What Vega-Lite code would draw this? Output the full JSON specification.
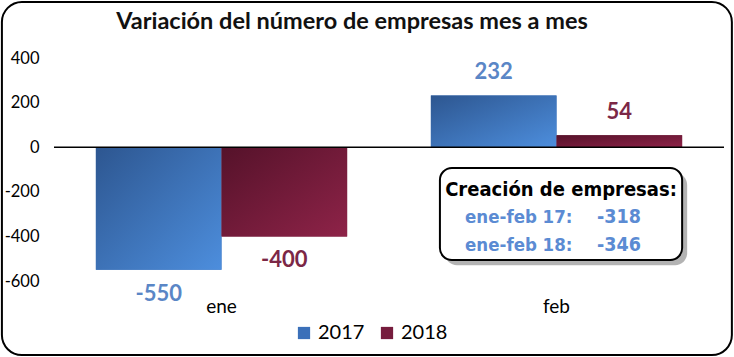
{
  "$schema": "https://vega.github.io/schema/vega-lite/v6.json",
  "width": 670,
  "height": 223,
  "autosize": {"type": "none"},
  "padding": {"left": 54, "top": 58, "right": 10, "bottom": 76},
  "background": "white",
  "config": {"view": {"stroke": null}},
  "title": {
    "text": "Variación del número de empresas mes a mes",
    "font": "Lato", "fontSize": 23.5, "fontWeight": "bold", "color": "#111111",
    "anchor": "middle", "frame": "group", "dx": -37, "offset": -32
  },
  "datasets": {
    "variacion": [
      {"mes": "ene", "year": "2017", "valor": -550},
      {"mes": "ene", "year": "2018", "valor": -400},
      {"mes": "feb", "year": "2017", "valor": 232},
      {"mes": "feb", "year": "2018", "valor": 54}
    ],
    "resumen": [
      {"periodo": "ene-feb 17:", "creacion": -318},
      {"periodo": "ene-feb 18:", "creacion": -346}
    ]
  },
  "data": {"name": "variacion"},
  "layer": [
    {
      "data": {"values": [{}]},
      "mark": {"type": "rect", "fill": "transparent", "stroke": "black", "strokeWidth": 2, "cornerRadius": 20, "clip": false},
      "encoding": {
        "x": {"datum": "ene", "type": "nominal", "bandPosition": -0.374},
        "x2": {"datum": "feb", "bandPosition": 1.198},
        "y": {"datum": 651, "type": "quantitative"},
        "y2": {"datum": -932}
      }
    },
    {
      "mark": {"type": "bar"},
      "encoding": {
        "x": {"field": "mes", "type": "nominal", "scale": {"domain": ["ene", "feb"], "paddingInner": 0.25, "paddingOuter": 0.125},
              "axis": {"title": null, "bandPosition": 0.5, "domain": false, "ticks": false, "labelAngle": 0, "labelAlign": "center", "labelFont": "Lato", "labelFontSize": 19, "labelColor": "black", "labelPadding": 25}},
        "xOffset": {"field": "year", "type": "nominal", "scale": {"paddingInner": 0}},
        "y": {"field": "valor", "type": "quantitative", "scale": {"domain": [-600, 400], "nice": false, "zero": false},
              "axis": {"title": null, "values": [-600, -400, -200, 0, 200, 400], "labelExpr": "toString(datum.value)", "domain": false, "ticks": false, "labelFont": "Lato", "labelFontSize": 16.5, "labelColor": "black", "labelPadding": 15, "gridDash": [3, 2], "gridColor": "#8c8c8c", "gridWidth": 1}},
        "color": {"field": "year", "type": "nominal", "scale": {"domain": ["2017", "2018"], "range": ["#3B70B9", "#761C3D"]},
                  "legend": {"title": null, "orient": "none", "direction": "horizontal", "legendX": 240, "legendY": 265, "padding": 0, "symbolType": "square", "symbolSize": 150, "symbolStrokeWidth": 0, "labelFont": "Lato", "labelFontSize": 20, "labelColor": "black", "labelOffset": 4, "columnPadding": 12}}
      }
    },
    {
      "transform": [{"filter": "datum.year == '2017'"}],
      "mark": {"type": "bar", "fill": {"gradient": "linear", "x1": 0, "y1": 0, "x2": 1, "y2": 1, "stops": [{"offset": 0, "color": "#2D5690"}, {"offset": 1, "color": "#4D8EDD"}]}},
      "encoding": {
        "x": {"field": "mes", "type": "nominal"},
        "xOffset": {"field": "year", "type": "nominal"},
        "y": {"field": "valor", "type": "quantitative"}
      }
    },
    {
      "transform": [{"filter": "datum.year == '2018'"}],
      "mark": {"type": "bar", "fill": {"gradient": "linear", "x1": 0, "y1": 0, "x2": 1, "y2": 1, "stops": [{"offset": 0, "color": "#55122A"}, {"offset": 1, "color": "#8E2348"}]}},
      "encoding": {
        "x": {"field": "mes", "type": "nominal"},
        "xOffset": {"field": "year", "type": "nominal"},
        "y": {"field": "valor", "type": "quantitative"}
      }
    },
    {
      "data": {"values": [{}]},
      "mark": {"type": "rule", "color": "black", "strokeWidth": 1.5},
      "encoding": {"y": {"datum": 0, "type": "quantitative"}}
    },
    {
      "transform": [{"filter": "datum.valor >= 0"}],
      "mark": {"type": "text", "font": "Lato", "fontSize": 22, "fontWeight": "bold", "baseline": "bottom", "dy": -11},
      "encoding": {
        "x": {"field": "mes", "type": "nominal"},
        "xOffset": {"field": "year", "type": "nominal"},
        "y": {"field": "valor", "type": "quantitative"},
        "text": {"field": "valor", "type": "nominal"},
        "color": {"condition": {"test": "datum.year == '2017'", "value": "#5A86C6"}, "value": "#7B2746"}
      }
    },
    {
      "transform": [{"filter": "datum.valor < 0"}],
      "mark": {"type": "text", "font": "Lato", "fontSize": 22, "fontWeight": "bold", "baseline": "top", "dy": 14},
      "encoding": {
        "x": {"field": "mes", "type": "nominal"},
        "xOffset": {"field": "year", "type": "nominal"},
        "y": {"field": "valor", "type": "quantitative"},
        "text": {"field": "valor", "type": "nominal"},
        "color": {"condition": {"test": "datum.year == '2017'", "value": "#5A86C6"}, "value": "#7B2746"}
      }
    },
    {
      "data": {"values": [{}]},
      "mark": {"type": "rect", "fill": "#9a9a9a", "opacity": 0.75, "cornerRadius": 12},
      "encoding": {
        "x": {"datum": "feb", "type": "nominal", "bandPosition": 0.056},
        "x2": {"datum": "feb", "bandPosition": 1.02},
        "y": {"datum": -116, "type": "quantitative"},
        "y2": {"datum": -529}
      }
    },
    {
      "data": {"values": [{}]},
      "mark": {"type": "rect", "fill": "white", "stroke": "black", "strokeWidth": 2, "cornerRadius": 12},
      "encoding": {
        "x": {"datum": "feb", "type": "nominal", "bandPosition": 0.036},
        "x2": {"datum": "feb", "bandPosition": 1.0},
        "y": {"datum": -93, "type": "quantitative"},
        "y2": {"datum": -506}
      }
    },
    {
      "data": {"values": [{"texto": "Creación de empresas:"}]},
      "mark": {"type": "text", "font": "Liberation Sans Narrow, DejaVu Sans Condensed, Roboto", "fontSize": 20, "fontWeight": "bold", "color": "black", "align": "center", "baseline": "middle"},
      "encoding": {
        "x": {"datum": "feb", "type": "nominal", "bandPosition": 0.518},
        "y": {"datum": -192, "type": "quantitative"},
        "text": {"field": "texto"}
      }
    },
    {
      "data": {"name": "resumen"},
      "transform": [{"filter": "datum.periodo == 'ene-feb 17:'"}],
      "layer": [
        {
          "mark": {"type": "text", "font": "Liberation Sans Narrow, DejaVu Sans Condensed, Roboto", "fontSize": 18.5, "fontWeight": "bold", "color": "#5B8BD3", "align": "left", "baseline": "middle"},
          "encoding": {"x": {"datum": "feb", "type": "nominal", "bandPosition": 0.136}, "y": {"datum": -313, "type": "quantitative"}, "text": {"field": "periodo"}}
        },
        {
          "mark": {"type": "text", "font": "Liberation Sans Narrow, DejaVu Sans Condensed, Roboto", "fontSize": 19.5, "fontWeight": "bold", "color": "#5B8BD3", "align": "left", "baseline": "middle"},
          "encoding": {"x": {"datum": "feb", "type": "nominal", "bandPosition": 0.661}, "y": {"datum": -313, "type": "quantitative"}, "text": {"field": "creacion", "type": "nominal"}}
        }
      ]
    },
    {
      "data": {"name": "resumen"},
      "transform": [{"filter": "datum.periodo == 'ene-feb 18:'"}],
      "layer": [
        {
          "mark": {"type": "text", "font": "Liberation Sans Narrow, DejaVu Sans Condensed, Roboto", "fontSize": 18.5, "fontWeight": "bold", "color": "#5B8BD3", "align": "left", "baseline": "middle"},
          "encoding": {"x": {"datum": "feb", "type": "nominal", "bandPosition": 0.136}, "y": {"datum": -439, "type": "quantitative"}, "text": {"field": "periodo"}}
        },
        {
          "mark": {"type": "text", "font": "Liberation Sans Narrow, DejaVu Sans Condensed, Roboto", "fontSize": 19.5, "fontWeight": "bold", "color": "#5B8BD3", "align": "left", "baseline": "middle"},
          "encoding": {"x": {"datum": "feb", "type": "nominal", "bandPosition": 0.661}, "y": {"datum": -439, "type": "quantitative"}, "text": {"field": "creacion", "type": "nominal"}}
        }
      ]
    }
  ]
}
